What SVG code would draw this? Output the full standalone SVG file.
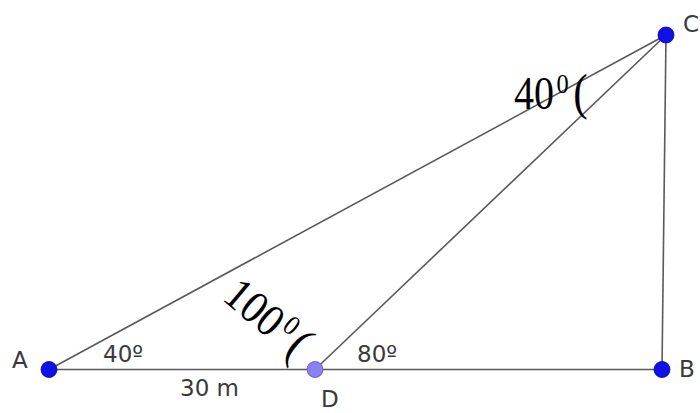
<svg xmlns="http://www.w3.org/2000/svg" width="700" height="413" viewBox="0 0 700 413">
<style>
.ln{stroke:#5a5a5a;stroke-width:1.6;fill:none}
.pt{fill:#1010e8;stroke:#0000a0;stroke-width:0.8}
.lb{font-family:"DejaVu Sans","Liberation Sans",sans-serif;font-size:23px;fill:#3a3a3a}
.big{font-family:"Liberation Serif",serif;font-size:46px;fill:#000}
</style>
<rect width="700" height="413" fill="#fff"/>
<g id="connectors">
<line class="ln" x1="49" y1="369.5" x2="662" y2="369.5"/>
<line class="ln" x1="49" y1="369.5" x2="666" y2="35"/>
<line class="ln" x1="315" y1="369.5" x2="666" y2="35"/>
<line class="ln" x1="662" y1="369.5" x2="666" y2="35"/>
</g>
<g id="A"><circle class="pt" cx="49" cy="369.5" r="8"/><text class="lb" x="12" y="368">A</text></g>
<g id="D"><circle cx="315" cy="369.5" r="8" fill="#8a80f0" stroke="#5a50c0" stroke-width="0.8"/><text class="lb" x="321" y="407">D</text></g>
<g id="B"><circle class="pt" cx="662" cy="369.5" r="8"/><text class="lb" x="679" y="377">B</text></g>
<g id="C"><circle class="pt" cx="666" cy="35" r="8"/><text class="lb" x="683" y="32">C</text></g>
<g id="labels">
<text class="big" transform="translate(514,109) scale(0.87,1)">40<tspan font-size="28" dx="3" dy="-16">0</tspan><tspan font-size="50" dx="5" dy="16">(</tspan></text>
<text class="big" transform="translate(221,299) rotate(40) scale(0.9,1)">100<tspan font-size="28" dx="3" dy="-16">0</tspan><tspan font-size="50" dx="5" dy="16">(</tspan></text>
<text class="lb" x="103" y="362">40º</text>
<text class="lb" x="180" y="396">30 m</text>
<text class="lb" x="357" y="362">80º</text>
</g>
</svg>
